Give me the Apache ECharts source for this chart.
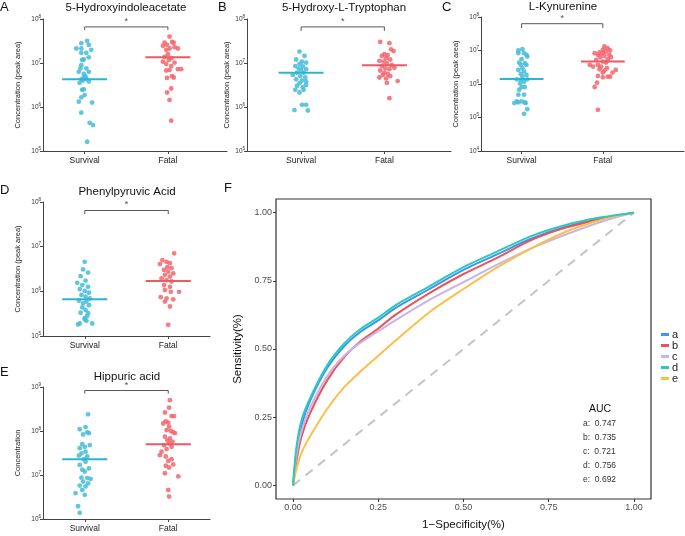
<!DOCTYPE html>
<html><head><meta charset="utf-8">
<script src="https://cdn.jsdelivr.net/npm/echarts@6/dist/echarts.min.js"></script>
<style>html,body{margin:0;padding:0;background:#fff}#c{width:685px;height:536px}</style>
</head><body><div id="c"></div>
<script>
// ---------- DATA ----------
const groups = ['Survival', 'Fatal'];
const panelTitles = ['5-Hydroxyindoleacetate', '5-Hydroxy-L-Tryptophan', 'L-Kynurenine', 'Phenylpyruvic Acid', 'Hippuric acid'];
const panelLetters = ['A', 'B', 'C', 'D', 'E', 'F'];
const yTitles = ['Concentration (peak area)', 'Concentration (peak area)', 'Concentration (peak area)', 'Concentration (peak area)', 'Concentration'];
// decade ranges (exponents) of log y axes
const yExpMin = [5, 5, 4, 5, 6];
const yExpMax = [8, 8, 8, 8, 9];
// points: [jitter offset, log10(concentration)]
const A_surv = [[0.03,7.50],[-0.04,7.45],[0.05,7.41],[-0.10,7.33],[-0.04,7.33],[0.08,7.30],[-0.04,7.23],[0.02,7.23],[0.05,7.13],[-0.01,7.08],[-0.03,7.07],[-0.04,6.95],[0.02,6.88],[-0.05,6.88],[-0.07,6.80],[0.05,6.80],[-0.01,6.75],[0.01,6.70],[-0.01,6.67],[-0.04,6.63],[0.02,6.64],[-0.02,6.60],[0.05,6.58],[-0.06,6.55],[-0.01,6.40],[-0.03,6.39],[0.00,6.27],[-0.04,6.22],[-0.07,6.12],[0.09,6.10],[-0.04,5.87],[0.06,5.64],[0.10,5.59],[0.03,5.21]];
const A_fatal = [[0.02,7.60],[-0.04,7.46],[0.05,7.48],[0.07,7.46],[-0.01,7.41],[-0.06,7.39],[0.08,7.36],[0.02,7.33],[-0.02,7.30],[0.12,7.33],[0.00,7.20],[-0.04,7.14],[0.04,7.11],[0.01,7.07],[-0.06,7.03],[0.08,7.01],[-0.02,6.98],[0.04,6.93],[0.02,6.84],[0.12,6.86],[0.16,6.86],[-0.02,6.83],[0.05,6.70],[0.07,6.67],[-0.01,6.66],[0.04,6.42],[-0.01,6.33],[0.02,6.16],[0.04,5.69]];
const B_surv = [[-0.02,7.26],[0.04,7.16],[-0.06,7.08],[0.01,7.03],[0.06,7.01],[-0.02,6.98],[-0.07,6.93],[0.02,6.92],[-0.03,6.88],[0.06,6.86],[0.00,6.83],[-0.05,6.78],[0.03,6.78],[-0.10,6.73],[-0.01,6.70],[0.05,6.67],[-0.06,6.63],[0.01,6.60],[-0.02,6.54],[0.06,6.50],[-0.05,6.48],[0.02,6.45],[0.06,6.58],[-0.07,6.39],[0.03,6.39],[-0.02,6.33],[-0.08,5.93],[0.01,6.05],[0.06,6.05],[0.08,5.92]];
const B_fatal = [[-0.05,7.48],[0.06,7.45],[0.08,7.31],[0.11,7.27],[0.00,7.20],[0.04,7.18],[-0.03,7.16],[0.02,7.11],[0.07,7.08],[-0.06,7.05],[-0.01,7.03],[0.03,6.99],[0.09,6.95],[-0.03,6.93],[0.12,6.89],[0.01,6.88],[0.06,6.86],[-0.05,6.83],[0.00,6.78],[0.04,6.75],[-0.02,6.73],[0.07,6.70],[-0.06,6.67],[0.02,6.65],[0.16,6.59],[0.03,6.55],[0.06,6.20]];
const C_surv = [[0.01,7.04],[-0.04,7.00],[0.03,6.92],[-0.04,6.92],[0.06,6.87],[0.00,6.74],[0.07,6.82],[-0.03,6.64],[0.04,6.62],[-0.01,6.57],[0.06,6.57],[0.01,6.47],[-0.04,6.42],[0.03,6.37],[-0.01,6.30],[0.06,6.27],[0.01,6.22],[-0.06,6.14],[-0.01,6.12],[0.03,6.07],[0.07,6.14],[-0.02,6.02],[0.04,5.91],[0.00,5.91],[-0.03,5.83],[0.03,5.68],[-0.04,5.68],[0.00,5.48],[-0.06,5.48],[-0.09,5.43],[-0.04,5.45],[0.04,5.45],[0.05,5.43],[0.07,5.25],[0.03,5.11]];
const C_fatal = [[0.02,7.12],[0.06,7.07],[0.00,7.02],[0.09,7.00],[0.04,6.97],[-0.04,6.94],[-0.10,6.92],[0.00,6.92],[-0.06,6.87],[0.08,6.87],[0.02,6.84],[-0.03,6.80],[0.10,6.80],[0.06,6.74],[-0.08,6.72],[0.00,6.67],[0.04,6.64],[-0.06,6.57],[-0.16,6.57],[-0.12,6.52],[-0.02,6.52],[0.05,6.47],[-0.04,6.44],[0.02,6.40],[0.16,6.42],[0.12,6.34],[0.00,6.34],[-0.06,6.24],[0.06,6.22],[0.00,6.20],[0.09,6.22],[-0.07,6.04],[-0.10,5.91],[-0.06,5.23]];
const D_surv = [[0.00,6.66],[-0.02,6.49],[0.04,6.42],[-0.05,6.34],[-0.09,6.19],[0.01,6.24],[-0.03,6.14],[0.04,6.10],[-0.06,6.05],[0.00,6.01],[0.05,5.97],[-0.04,5.92],[0.01,5.88],[0.06,5.84],[-0.07,5.79],[0.02,5.77],[-0.02,5.73],[0.05,5.69],[-0.03,5.64],[0.01,5.58],[-0.05,5.52],[0.04,5.51],[0.00,5.40],[0.00,5.37],[0.02,5.34],[-0.06,5.28],[0.09,5.28],[-0.08,5.26],[0.03,5.45]];
const D_fatal = [[0.07,6.85],[-0.07,6.70],[-0.02,6.66],[0.02,6.63],[-0.10,6.61],[-0.01,6.54],[0.04,6.52],[-0.05,6.48],[0.00,6.44],[0.06,6.40],[-0.04,6.37],[0.02,6.33],[-0.08,6.29],[-0.02,6.25],[0.04,6.22],[-0.05,6.14],[0.02,6.10],[-0.04,6.03],[0.03,5.99],[0.13,5.99],[-0.09,5.87],[-0.02,5.84],[0.06,5.82],[-0.04,5.77],[0.02,5.66],[0.00,5.25]];
const E_surv = [[0.04,8.38],[-0.06,8.04],[0.01,8.09],[0.03,7.97],[-0.02,7.92],[0.05,7.95],[-0.03,7.70],[0.06,7.68],[0.00,7.64],[-0.06,7.61],[0.01,7.53],[-0.04,7.49],[-0.07,7.44],[0.03,7.42],[-0.01,7.36],[0.01,7.30],[-0.06,7.23],[-0.03,7.12],[0.00,7.08],[0.05,7.15],[-0.04,6.94],[0.03,6.93],[0.07,6.91],[-0.02,6.85],[0.04,6.81],[-0.06,6.76],[0.01,6.74],[-0.03,6.66],[-0.11,6.59],[0.00,6.55],[-0.08,6.29],[-0.06,6.14]];
const E_fatal = [[0.02,8.70],[0.01,8.53],[-0.04,8.42],[0.04,8.34],[0.07,8.34],[-0.03,8.22],[0.00,8.19],[-0.06,8.17],[0.01,8.10],[-0.02,8.02],[0.03,8.00],[0.06,7.97],[0.08,7.95],[-0.04,7.87],[0.02,7.83],[-0.01,7.79],[0.05,7.76],[0.01,7.72],[-0.05,7.68],[0.04,7.64],[-0.02,7.59],[-0.08,7.53],[-0.10,7.45],[-0.03,7.42],[0.04,7.36],[0.00,7.32],[0.06,7.24],[-0.03,7.21],[0.01,7.17],[-0.04,7.04],[0.12,6.97],[0.00,6.66],[0.01,6.51]];
// medians (log10) [Survival, Fatal]
const medians = [[6.63,7.13],[6.78,6.95],[6.15,6.67],[5.82,6.23],[7.36,7.70]];
const signif = ['*', '*', '*', '*', '*'];

// ROC
const rocNames = ['a', 'b', 'c', 'd', 'e'];
const rocAUC = ['0.747', '0.735', '0.721', '0.756', '0.692'];
const rocFPR = [0, 0.01, 0.025, 0.05, 0.1, 0.15, 0.2, 0.25, 0.3, 0.4, 0.5, 0.6, 0.7, 0.8, 0.9, 1];
const rocA = [0, 0.12, 0.22, 0.31, 0.43, 0.51, 0.565, 0.605, 0.65, 0.72, 0.79, 0.848, 0.905, 0.948, 0.978, 1];
const rocB = [0, 0.09, 0.18, 0.265, 0.385, 0.47, 0.53, 0.575, 0.625, 0.705, 0.775, 0.835, 0.90, 0.945, 0.975, 1];
const rocC = [0, 0.11, 0.20, 0.285, 0.40, 0.475, 0.525, 0.565, 0.605, 0.68, 0.745, 0.81, 0.87, 0.92, 0.965, 1];
const rocD = [0, 0.14, 0.24, 0.32, 0.44, 0.52, 0.575, 0.615, 0.66, 0.73, 0.80, 0.858, 0.915, 0.955, 0.982, 1];
const rocE = [0, 0.06, 0.12, 0.18, 0.28, 0.36, 0.42, 0.475, 0.53, 0.635, 0.72, 0.80, 0.87, 0.93, 0.972, 1];
const rocTicks = [0, 0.25, 0.5, 0.75, 1];

// ---------- STYLE / LAYOUT ----------
const FONT = 'Liberation Sans, Arial, sans-serif';
const colSurv = '#45BCD7', colFatal = '#F2656D';
const colSurvLine = '#2DB4CF', colFatalLine = '#EF5860';
const rocColors = ['#3D95F2', '#EE5257', '#C7B5EA', '#2EC8BD', '#F9C04C'];
const panels = [
  {grid: {left: 43, top: 19, width: 184, height: 132}, xMin: 0.5, xMax: 2.71, nameGap: 21, bracket: [7.75, 7.82]},
  {grid: {left: 247, top: 19, width: 204, height: 132}, xMin: 0.35, xMax: 2.8, nameGap: 16, bracket: [7.73, 7.82]},
  {grid: {left: 481, top: 17, width: 203, height: 134}, xMin: 0.5, xMax: 3.0, nameGap: 21, bracket: [7.67, 7.80]},
  {grid: {left: 43, top: 202, width: 167, height: 134}, xMin: 0.5, xMax: 2.5, nameGap: 21, bracket: [7.73, 7.81]},
  {grid: {left: 43, top: 387, width: 167, height: 132}, xMin: 0.5, xMax: 2.5, nameGap: 21, bracket: [8.85, 8.92]}
];
const pointSets = [[A_surv, A_fatal], [B_surv, B_fatal], [C_surv, C_fatal], [D_surv, D_fatal], [E_surv, E_fatal]];

const grids = [], xAxes = [], yAxes = [], series = [];
panels.forEach((p, i) => {
  grids.push(p.grid);
  xAxes.push({
    type: 'value', gridIndex: i, min: p.xMin, max: p.xMax,
    splitLine: {show: false},
    axisLine: {onZero: false, lineStyle: {color: '#444', width: 1}},
    axisTick: {customValues: [1, 2], length: 3, lineStyle: {color: '#444'}},
    axisLabel: {customValues: [1, 2], formatter: v => groups[Math.round(v) - 1], fontSize: 8.5, color: '#222', fontFamily: FONT, margin: 5}
  });
  const ticks = [];
  for (let e = yExpMin[i]; e <= yExpMax[i]; e++) ticks.push(Math.pow(10, e));
  yAxes.push({
    type: 'log', logBase: 10, gridIndex: i, min: Math.pow(10, yExpMin[i]), max: Math.pow(10, yExpMax[i]),
    splitLine: {show: false},
    axisLine: {show: true, onZero: false, lineStyle: {color: '#444', width: 1}},
    axisTick: {show: true, customValues: ticks, length: 3, lineStyle: {color: '#444'}},
    axisLabel: {
      customValues: ticks, margin: 2, fontFamily: FONT,
      formatter: v => '{b|10}{s|' + Math.round(Math.log10(v)) + '}',
      rich: {b: {fontSize: 6.5, color: '#333', fontFamily: FONT}, s: {fontSize: 4.5, color: '#333', fontFamily: FONT, verticalAlign: 'top', padding: [0, 0, 5, 0]}}
    },
    name: yTitles[i], nameLocation: 'middle', nameGap: p.nameGap, nameRotate: 90,
    nameTextStyle: {fontSize: 7.5, color: '#222', fontFamily: FONT}
  });
  [0, 1].forEach(g => {
    series.push({
      type: 'scatter', xAxisIndex: i, yAxisIndex: i, symbolSize: 4.8,
      itemStyle: {color: g === 0 ? colSurv : colFatal, opacity: 0.85},
      data: pointSets[i][g].map(d => [g + 1 + d[0], Math.pow(10, d[1])]),
      silent: true, z: 2
    });
    const m = Math.pow(10, medians[i][g]);
    series.push({
      type: 'line', xAxisIndex: i, yAxisIndex: i, showSymbol: false, silent: true, z: 3,
      lineStyle: {color: g === 0 ? colSurvLine : colFatalLine, width: 2},
      data: [[g + 1 - 0.27, m], [g + 1 + 0.27, m]]
    });
  });
  const lo = Math.pow(10, p.bracket[0]), hi = Math.pow(10, p.bracket[1]);
  series.push({
    type: 'line', xAxisIndex: i, yAxisIndex: i, showSymbol: false, silent: true, z: 3,
    lineStyle: {color: '#444', width: 0.9},
    data: [[1, lo], [1, hi], [2, hi], [2, lo]]
  });
  series.push({
    type: 'scatter', xAxisIndex: i, yAxisIndex: i, symbolSize: 0, silent: true,
    data: [[1.5, hi]],
    label: {show: true, position: 'top', distance: 1, formatter: signif[i], fontSize: 9, color: '#222', fontFamily: FONT}
  });
});

// ROC panel
const fi = panels.length;
grids.push({left: 276, top: 199, width: 375, height: 308, show: true, borderColor: '#333', borderWidth: 1.2});
xAxes.push({
  type: 'value', gridIndex: fi, min: -0.05, max: 1.05, splitLine: {show: false},
  axisLine: {show: false, onZero: false},
  axisTick: {show: true, customValues: rocTicks, length: 3, lineStyle: {color: '#333'}},
  axisLabel: {customValues: rocTicks, formatter: v => v.toFixed(2), fontSize: 9, color: '#4D4D4D', fontFamily: FONT, margin: 4},
  name: '1\u2212Specificity(%)', nameLocation: 'middle', nameGap: 20,
  nameTextStyle: {fontSize: 11.5, color: '#111', fontFamily: FONT}
});
yAxes.push({
  type: 'value', gridIndex: fi, min: -0.05, max: 1.05, splitLine: {show: false},
  axisLine: {show: false, onZero: false},
  axisTick: {show: true, customValues: rocTicks, length: 3, lineStyle: {color: '#333'}},
  axisLabel: {customValues: rocTicks, formatter: v => v.toFixed(2), fontSize: 9, color: '#4D4D4D', fontFamily: FONT, margin: 4},
  name: 'Sensitivity(%)', nameLocation: 'middle', nameGap: 27, nameRotate: 90,
  nameTextStyle: {fontSize: 11.5, color: '#111', fontFamily: FONT}
});
series.push({
  type: 'line', xAxisIndex: fi, yAxisIndex: fi, showSymbol: false, silent: true, z: 1,
  lineStyle: {color: '#C4C4C4', width: 2, type: [9, 7]},
  data: [[0, 0], [1, 1]]
});
[rocA, rocB, rocC, rocD, rocE].forEach((arr, k) => {
  series.push({
    name: rocNames[k], type: 'line', xAxisIndex: fi, yAxisIndex: fi, showSymbol: false, silent: true,
    smooth: 0.3, color: rocColors[k],
    lineStyle: {color: rocColors[k], width: 2},
    data: rocFPR.map((x, j) => [x, arr[j]]), z: 2 + (k === 3 ? 1 : 0)
  });
});

const graphics = [];
const letterPos = [[0, 1], [218, 1], [442, 1], [0, 184], [0, 366], [224, 182]];
panelLetters.forEach((t, i) => graphics.push({type: 'text', left: letterPos[i][0], top: letterPos[i][1], style: {text: t, fontSize: 13, fill: '#111', fontFamily: FONT}}));
const titlePos = [[126, 8], [344, 8], [563, 7], [127, 192], [127, 377]];
panelTitles.forEach((t, i) => graphics.push({type: 'text', x: titlePos[i][0], y: titlePos[i][1], style: {text: t, fontSize: 11.5, fill: '#111', fontFamily: FONT, align: 'center', verticalAlign: 'middle'}}));
graphics.push({type: 'text', x: 600, y: 409, style: {text: 'AUC', fontSize: 10.5, fill: '#111', fontFamily: FONT, align: 'center', verticalAlign: 'middle'}});
rocNames.forEach((n, k) => graphics.push({type: 'text', x: 583, y: 424 + k * 14, style: {text: n + ':  ' + rocAUC[k], fontSize: 8.5, fill: '#333', fontFamily: FONT, align: 'left', verticalAlign: 'middle'}}));

const chart = echarts.init(document.getElementById('c'), null, {renderer: 'canvas'});
chart.setOption({
  animation: false,
  backgroundColor: '#fff',
  grid: grids, xAxis: xAxes, yAxis: yAxes, series: series,
  legend: {
    data: rocNames, orient: 'vertical', left: 661, top: 329, itemWidth: 8, itemHeight: 3, itemGap: 0,
    icon: 'rect', padding: 0, textStyle: {fontSize: 11, color: '#222', fontFamily: FONT, lineHeight: 10.5, padding: [0, 0, 0, -2]}
  },
  graphic: graphics
});
</script></body></html>
